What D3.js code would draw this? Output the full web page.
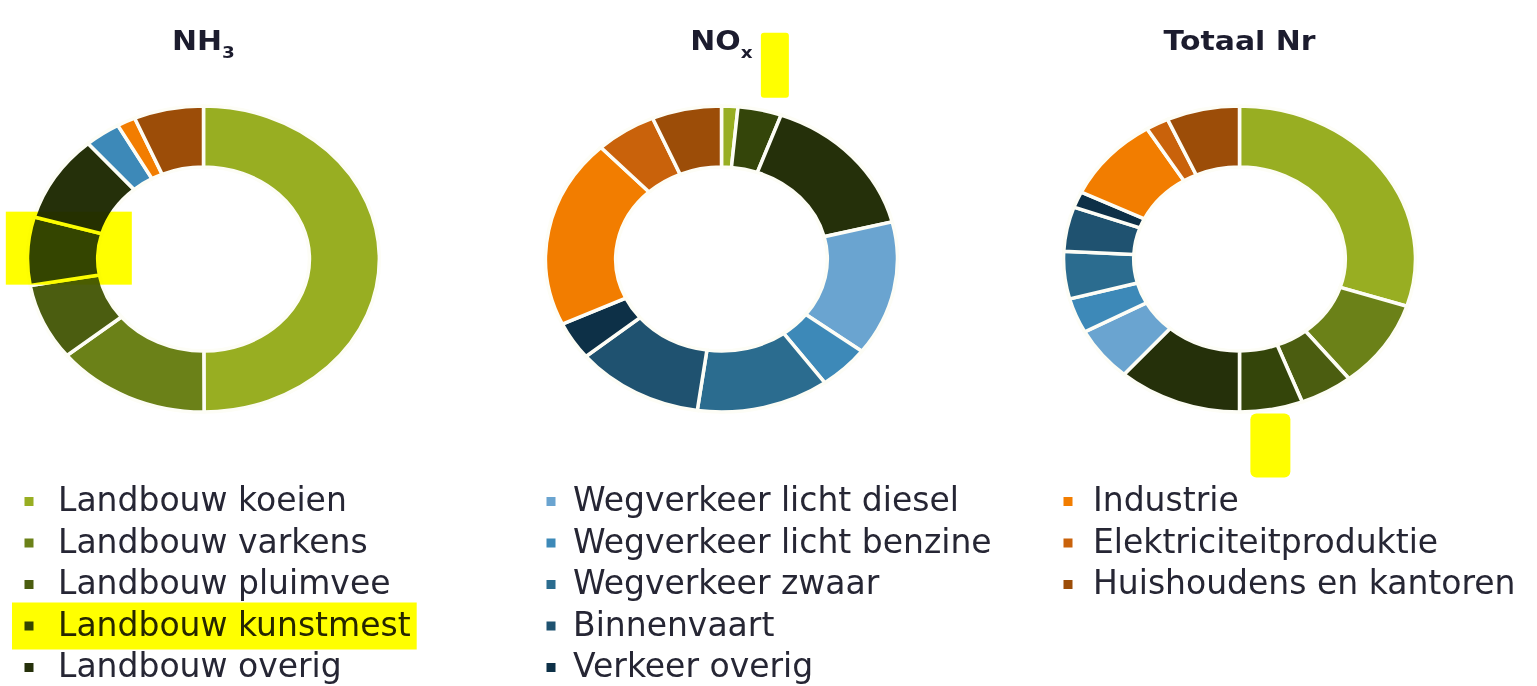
<!DOCTYPE html>
<html>
<head>
<meta charset="utf-8">
<script src="https://cdnjs.cloudflare.com/ajax/libs/d3/7.8.5/d3.min.js"></script>
<style>
  body { margin: 0; background: #fff; }
  svg { display: block; font-family: "DejaVu Sans", Verdana, sans-serif; }
</style>
</head>
<body>
<div id="chart"></div>
<script>
/* Emissie-aandelen NH3, NOx en totaal Nr per bron - donut charts */

//source categories, same order as the slices and the legend
var categories = ["Landbouw koeien", "Landbouw varkens", "Landbouw pluimvee", "Landbouw kunstmest", "Landbouw overig",
    "Wegverkeer licht diesel", "Wegverkeer licht benzine", "Wegverkeer zwaar", "Binnenvaart", "Verkeer overig",
    "Industrie", "Elektriciteitproduktie", "Huishoudens en kantoren"];

var colors = ["#98ae22", "#6b8118", "#4b5d10", "#34450a", "#25300a",
    "#6aa4d0", "#3d89b8", "#2b6c8f", "#1f5270", "#0d3047",
    "#f27d00", "#c9620b", "#9c4d08"];

//shares in percent per chart (0 = not in this chart)
var nh3Values    = [50, 14.2, 8.1, 7.2, 9.2, 0, 3.3, 0, 0, 0, 1.7, 0, 6.4];
var noxValues    = [1.5, 0, 0, 4.0, 15.6, 14.2, 4.7, 12.2, 11.8, 4.0, 20, 5.6, 6.4];
var totaalValues = [30, 9.3, 4.9, 5.8, 11.4, 5.7, 3.7, 5.0, 4.7, 1.7, 9.0, 2.1, 6.7];

var chartNames = ["NH3", "NOx", "Totaal Nr"];
var titleMain = ["NH", "NO", "Totaal Nr"];
var titleSub = ["3", "x", ""];

//category that is marked with the yellow highlighter
var highlighted = "Landbouw kunstmest";

var width = 1537, height = 686;
var outerR = 153, innerR = 92, stretch = 1.15, cy = 259;

var svg = d3.select("#chart").append("svg")
    .attr("width", width)
    .attr("height", height);

//place the three donuts
var xPos = d3.scalePoint()
    .domain(chartNames)
    .range([203.5, 1239.5]);

var pie = d3.pie().sort(null).value(function(d){ return d.value; });
var arc = d3.arc().innerRadius(innerR).outerRadius(outerR);

var allValues = [nh3Values, noxValues, totaalValues];

//angle -> point on the stretched ring
function ringPoint(cx, angle, r){
    return [cx + Math.sin(angle) * r * stretch, cy - Math.cos(angle) * r];
}

var marks = [];

chartNames.forEach(function(name, i){
    var cx = xPos(name);
    var data = categories.map(function(c, j){
        return {cat: c, value: allValues[i][j], color: colors[j]};
    }).filter(function(d){ return d.value > 0; });

    var arcs = pie(data);

    var g = svg.append("g")
        .attr("transform", "translate(" + cx + "," + cy + ") scale(" + stretch + ",1)");

    g.selectAll("path")
        .data(arcs)
        .enter().append("path")
        .attr("d", arc)
        .attr("fill", function(d){ return d.data.color; })
        .attr("stroke", "#fdfdf6")
        .attr("stroke-width", 3.5)
        .attr("vector-effect", "non-scaling-stroke");

    //title
    var t = svg.append("g")
        .attr("transform", "translate(" + cx + ",50) scale(1.15,1)")
        .append("text")
        .attr("text-anchor", "middle")
        .attr("font-weight", "bold")
        .attr("font-size", 26)
        .attr("fill", "#1c1c2e");
    t.append("tspan").text(titleMain[i]);
    if (titleSub[i]) {
        t.append("tspan").attr("font-size", 16).attr("dy", 8).text(titleSub[i]);
    }

    //remember where the highlighted slice is
    arcs.forEach(function(a){
        if (a.data.cat == highlighted) {
            marks.push({chart: i, cx: cx, arc: a});
        }
    });
});

//legend
var legendCols = [
    {from: 0, to: 5, squareX: 29, textX: 58},
    {from: 5, to: 10, squareX: 551, textX: 573},
    {from: 10, to: 13, squareX: 1068, textX: 1093}
];
var rowY = d3.scaleLinear().domain([0, 1]).range([511, 552.5]);

var legendText = {};
legendCols.forEach(function(col){
    categories.slice(col.from, col.to).forEach(function(c, k){
        var j = col.from + k;
        var y = rowY(k);
        svg.append("rect")
            .attr("x", col.squareX - 4.5)
            .attr("y", y - 14)
            .attr("width", 9)
            .attr("height", 9)
            .attr("fill", colors[j]);
        legendText[c] = svg.append("text")
            .attr("x", col.textX)
            .attr("y", y)
            .attr("font-size", 33)
            .attr("fill", "#262634")
            .text(c);
    });
});

//yellow highlighter marks, drawn on top with multiply so the marks stay visible
var hl = svg.append("g").style("mix-blend-mode", "multiply");

marks.forEach(function(m){
    var mid = (m.arc.startAngle + m.arc.endAngle) / 2;
    if (m.chart == 0) {
        var c = ringPoint(m.cx, mid, (innerR + outerR) / 2);
        hl.append("rect")
            .attr("x", c[0] - 57).attr("y", c[1] - 41)
            .attr("width", 126).attr("height", 73)
            .attr("fill", "#ffff00").style("mix-blend-mode", "multiply");
    } else if (m.chart == 1) {
        var p = ringPoint(m.cx, mid, outerR);
        hl.append("rect")
            .attr("x", p[0] + 1).attr("y", p[1] - 77)
            .attr("width", 28).attr("height", 65)
            .attr("rx", 3)
            .attr("fill", "#ffff00").style("mix-blend-mode", "multiply");
    } else {
        var q = ringPoint(m.cx, mid, outerR);
        hl.append("rect")
            .attr("x", q[0] - 21).attr("y", q[1] + 4)
            .attr("width", 40).attr("height", 64)
            .attr("rx", 6)
            .attr("fill", "#ffff00").style("mix-blend-mode", "multiply");
    }
});

var box = legendText[highlighted].node().getBBox();
hl.append("rect")
    .attr("x", box.x - 46).attr("y", box.y - 2)
    .attr("width", box.width + 52).attr("height", box.height + 8)
    .attr("fill", "#ffff00").style("mix-blend-mode", "multiply");
</script>
</body>
</html>
